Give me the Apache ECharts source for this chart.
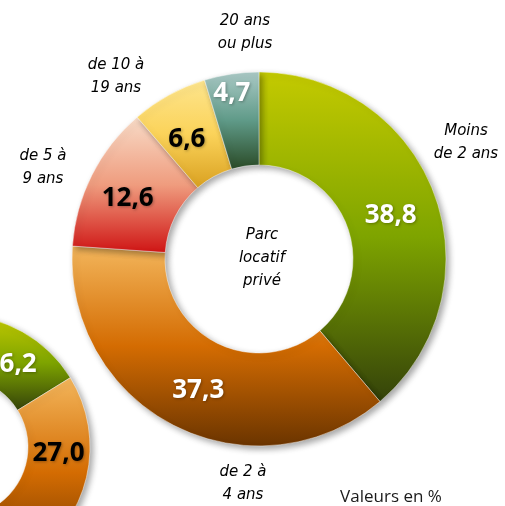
<!DOCTYPE html>
<html>
<head>
<meta charset="utf-8">
<script src="https://cdn.jsdelivr.net/npm/echarts@6/dist/echarts.min.js"></script>
<style>
  html, body { margin: 0; padding: 0; background: #ffffff; }
  #chart { width: 505px; height: 506px; }
</style>
</head>
<body>
<div id="chart"></div>
<script>
// Ancienneté d'occupation, parc locatif privé (en %)
const categories = ['Moins\nde 2 ans', 'de 2 à\n4 ans', 'de 5 à\n9 ans', 'de 10 à\n19 ans', '20 ans\nou plus'];
const privateValues = [38.8, 37.3, 12.6, 6.6, 4.7];
// Neighbouring ring, partly cut off at the lower left
const otherValues = [16.2, 27.0, 22.0, 17.3, 17.5];

// Vertical gradient per slice: light at the top, dark at the bottom
const palettes = [
  ['#c4ca00', '#7ea400', '#34420a'],
  ['#f3b65c', '#d46c02', '#6a3400'],
  ['#f8dcc8', '#ef9c7e', '#cf1414'],
  ['#fde58e', '#fbd35a', '#d9a020'],
  ['#abcac6', '#5f9a88', '#2a4a26']
];
const valueColors = ['#ffffff', '#ffffff', '#000000', '#000000', '#ffffff'];
const otherValueColors = ['#ffffff', '#000000', '#000000', '#000000', '#000000'];

// Label placement tweaks (layout only)
const valueOffsets = [[-3, 6], [4, 4], [-3, 4], [-3, 6], [-6, -23]];
const otherValueOffsets = [[2, 8], [1, -24], [0, 0], [0, 0], [0, 0]];
const namePositions = [[466, 143], [243, 484], [43, 168], [116, 77], [245, 33]];

const grad = (p) => new echarts.graphic.LinearGradient(0, 0, 0, 1, [
  { offset: 0, color: p[0] },
  { offset: 0.5, color: p[1] },
  { offset: 1, color: p[2] }
]);

const fmt = (v) => v.toFixed(1).replace('.', ',');

const sliceStyle = (i) => ({
  color: grad(palettes[i]),
  borderColor: 'rgba(255,255,255,0.45)',
  borderWidth: 1,
  shadowColor: 'rgba(0,0,0,0.35)',
  shadowBlur: 6,
  shadowOffsetX: 3,
  shadowOffsetY: 3
});

const valueLabel = (color) => ({
  show: true,
  position: 'inside',
  color: color,
  fontFamily: 'Open Sans',
  fontWeight: 'bold',
  fontSize: 26,
  textShadowColor: 'rgba(0,0,0,0.3)',
  textShadowBlur: 3,
  textShadowOffsetX: 1,
  textShadowOffsetY: 1,
  formatter: (p) => fmt(p.value)
});

const handFont = {
  fontFamily: 'DejaVu Sans',
  fontStyle: 'italic',
  fontSize: 15,
  lineHeight: 23,
  color: '#000000'
};

const chart = echarts.init(document.getElementById('chart'), null, { renderer: 'canvas' });

chart.setOption({
  animation: false,
  backgroundColor: '#ffffff',
  series: [
    {
      type: 'pie',
      name: 'other',
      silent: true,
      center: [-42, 447],
      radius: [70, 132],
      startAngle: 90,
      clockwise: true,
      labelLine: { show: false },
      data: otherValues.map((v, i) => ({
        value: v,
        name: categories[i],
        itemStyle: sliceStyle(i),
        label: valueLabel(otherValueColors[i])
      })),
      labelLayout: (p) => ({ dx: otherValueOffsets[p.dataIndex][0], dy: otherValueOffsets[p.dataIndex][1] })
    },
    {
      type: 'pie',
      name: 'values',
      silent: true,
      center: [259, 259],
      radius: [94, 187],
      startAngle: 90,
      clockwise: true,
      labelLine: { show: false },
      data: privateValues.map((v, i) => ({
        value: v,
        name: categories[i],
        itemStyle: sliceStyle(i),
        label: valueLabel(valueColors[i])
      })),
      labelLayout: (p) => ({ dx: valueOffsets[p.dataIndex][0], dy: valueOffsets[p.dataIndex][1] })
    },
    {
      // Category names, moved out next to their slices
      type: 'pie',
      name: 'names',
      silent: true,
      center: [259, 259],
      radius: [94, 187],
      startAngle: 90,
      clockwise: true,
      itemStyle: { color: 'rgba(0,0,0,0)' },
      labelLine: { show: false },
      label: Object.assign({ show: true, position: 'inside', align: 'center', overflow: 'none', formatter: '{b}' }, handFont),
      data: privateValues.map((v, i) => ({ value: v, name: categories[i] })),
      labelLayout: (p) => ({
        x: namePositions[p.dataIndex][0],
        y: namePositions[p.dataIndex][1],
        align: 'center',
        verticalAlign: 'middle'
      })
    }
  ],
  graphic: [
    {
      type: 'text',
      x: 262,
      y: 258,
      style: Object.assign({ text: 'Parc\nlocatif\nprivé', align: 'center', verticalAlign: 'middle' }, handFont)
    },
    {
      type: 'text',
      x: 391,
      y: 497,
      style: {
        text: 'Valeurs en %',
        align: 'center',
        verticalAlign: 'middle',
        fontFamily: 'Open Sans',
        fontSize: 17,
        fill: '#1a1a1a'
      }
    }
  ]
});
</script>
</body>
</html>
